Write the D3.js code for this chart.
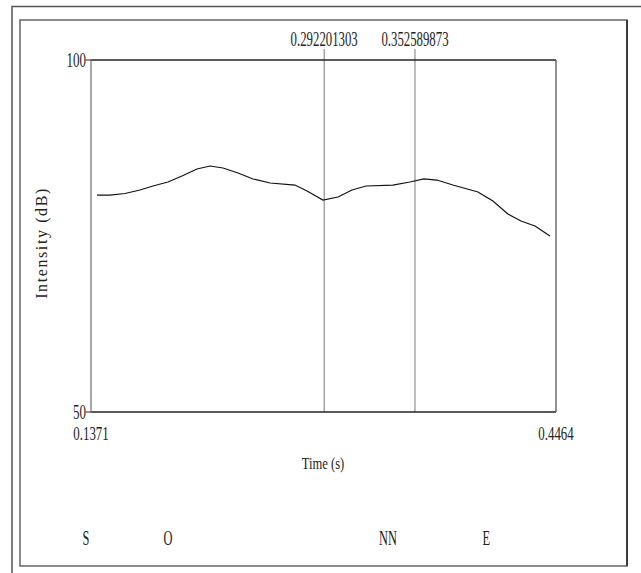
<!DOCTYPE html>
<html><head><meta charset="utf-8">
<script src="https://cdn.jsdelivr.net/npm/d3@7"></script>
<style>body{margin:0;background:#fff}svg{display:block}text{font-family:"Liberation Serif","Times New Roman",serif;fill:#222}</style>
</head><body>
<svg id="c" width="641" height="573"></svg>
<script>
const times = [0.1411,0.1497,0.1597,0.1697,0.1783,0.1883,0.1976,0.2076,0.2163,0.2249,0.2349,0.2449,0.2562,0.2728,0.2808,0.2914,0.3014,0.3107,0.3200,0.3379,0.3492,0.3585,0.3672,0.3778,0.3945,0.4044,0.4144,0.4231,0.4324,0.4424];
const intensity = [80.82,80.82,81.04,81.53,82.10,82.67,83.52,84.52,84.94,84.66,83.95,83.10,82.53,82.24,81.39,80.11,80.54,81.53,82.10,82.24,82.67,83.10,82.95,82.24,81.25,79.97,78.13,77.13,76.42,75.00];
const timeDomain = [0.1371, 0.4464];
const timeTickLabels = ["0.1371", "0.4464"];
const dbDomain = [50, 100];
const dbTickLabels = ["50", "100"];
const cursorTimes = [0.292201303, 0.352589873];
const cursorLabels = ["0.292201303", "0.352589873"];
const segLabels = ["S", "O", "NN", "E"];
const segTimes = [0.1338, 0.1883, 0.3346, 0.4000];

const svg = d3.select("#c");
const x = d3.scaleLinear().domain(timeDomain).range([91, 556]);
const y = d3.scaleLinear().domain(dbDomain).range([412, 60]);

function ctext(px, py, str, size, anchor, sx) {
  return svg.append("text")
    .attr("transform", `translate(${px},${py}) scale(${sx},1)`)
    .attr("text-anchor", anchor).attr("font-size", size).text(str);
}

// frames
svg.append("path").attr("d","M12,573V6.5H641").attr("fill","none").attr("stroke","#555").attr("stroke-width",1.5);
svg.append("rect").attr("x",20).attr("y",20).attr("width",607).attr("height",546).attr("fill","none").attr("stroke","#666").attr("stroke-width",1.5);
svg.append("line").attr("x1",627).attr("x2",627).attr("y1",20).attr("y2",566).attr("stroke","#222").attr("stroke-width",1.5);

// cursors
cursorTimes.forEach((t,i)=>{
  svg.append("line").attr("x1",x(t)).attr("x2",x(t)).attr("y1",49).attr("y2",412).attr("stroke","#777").attr("stroke-width",1);
  ctext(x(t), 46, cursorLabels[i], 20, "middle", 0.64);
});

// plot box
svg.append("line").attr("x1",91).attr("x2",556).attr("y1",y(100)).attr("y2",y(100)).attr("stroke","#222").attr("stroke-width",1.3);
svg.append("line").attr("x1",91).attr("x2",556).attr("y1",y(50)).attr("y2",y(50)).attr("stroke","#222").attr("stroke-width",1.3);
svg.append("line").attr("x1",91).attr("x2",91).attr("y1",60).attr("y2",412).attr("stroke","#777").attr("stroke-width",1.3);
svg.append("line").attr("x1",556).attr("x2",556).attr("y1",60).attr("y2",412).attr("stroke","#555").attr("stroke-width",1.3);

// y ticks
dbDomain.forEach((v,i)=>{
  svg.append("line").attr("x1",86).attr("x2",91).attr("y1",y(v)).attr("y2",y(v)).attr("stroke","#222");
  ctext(86, y(v)+7, dbTickLabels[i], 21, "end", 0.62);
});
// x tick labels
timeDomain.forEach((v,i)=>{
  ctext(x(v), 440, timeTickLabels[i], 19, "middle", 0.68);
});

ctext(323, 469, "Time (s)", 17, "middle", 0.74);
svg.append("text").attr("transform","translate(47,243) rotate(-90)").attr("text-anchor","middle").attr("font-size",16)
  .attr("letter-spacing",1.6).attr("fill","#333").text("Intensity (dB)");

// curve
const line = d3.line().x((d,i)=>x(times[i])).y(d=>y(d));
svg.append("path").datum(intensity).attr("d",line).attr("fill","none").attr("stroke","#111").attr("stroke-width",1.2);

// segment labels
segLabels.forEach((s,i)=>{
  ctext(x(segTimes[i]), 545, s, 20, "middle", 0.62);
});
</script>
</body></html>
